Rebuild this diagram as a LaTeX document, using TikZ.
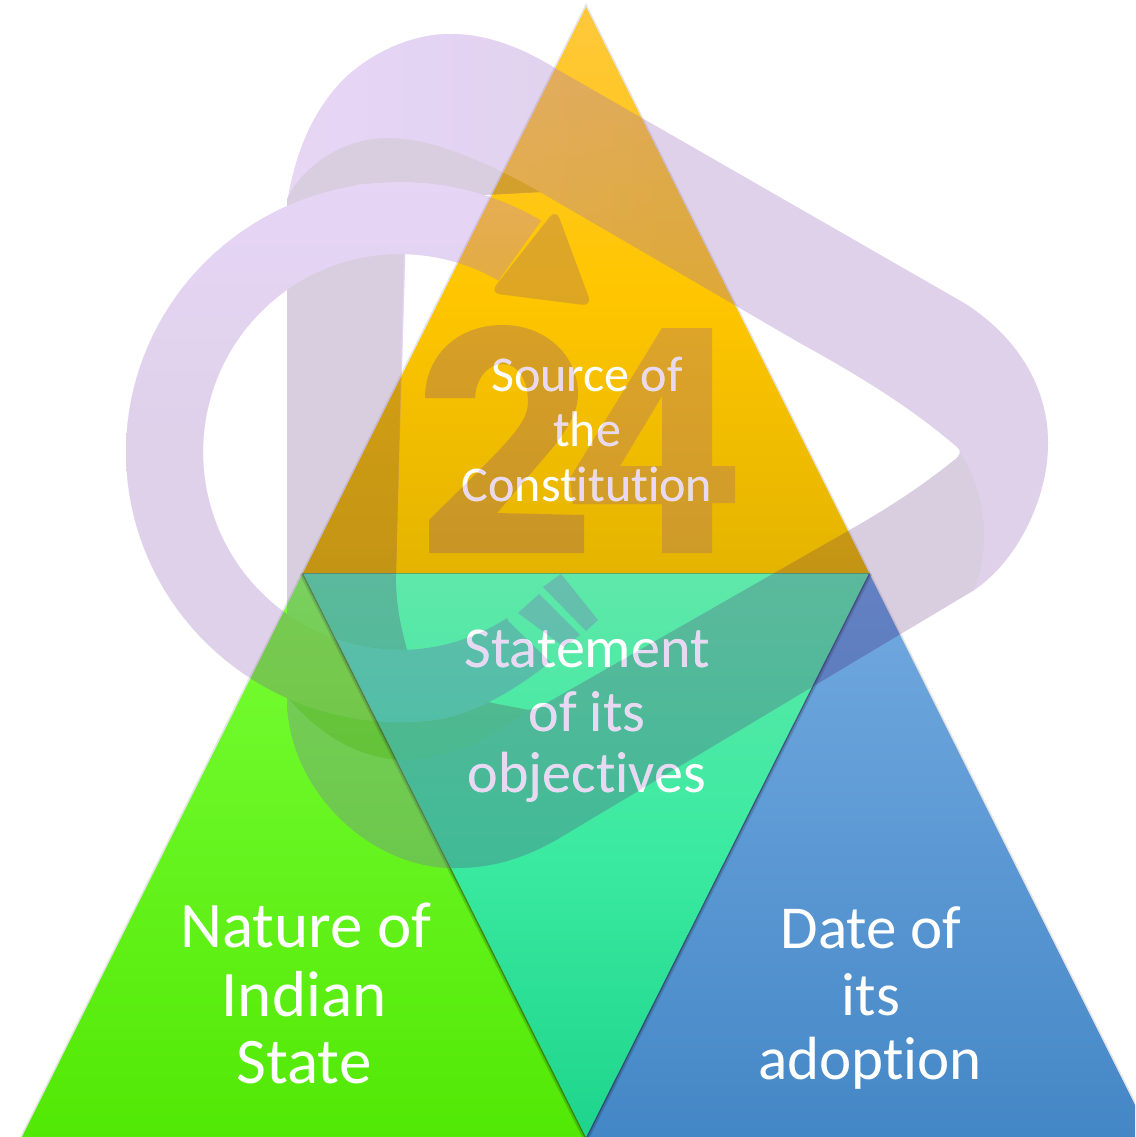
\documentclass[tikz,border=0pt]{standalone}
\usepackage{fontspec}
\setmainfont[Ligatures={NoCommon,NoRequired,NoContextual}]{Carlito}
\definecolor{wmLight}{RGB}{181,123,239}
\definecolor{wmMid}{RGB}{150,107,185}
\definecolor{wmRingTop}{RGB}{178,120,228}
\definecolor{wmDWhite}{RGB}{135,95,158}
\definecolor{wmDYellow}{RGB}{125,80,65}
\definecolor{wmDTeal}{RGB}{84,81,126}
\definecolor{wmDGreen}{RGB}{126,106,180}
\definecolor{wmDBlue}{RGB}{68,42,129}
\definecolor{wmBandY}{RGB}{116,74,97}
\definecolor{wmBandB}{RGB}{85,80,100}
\definecolor{wmRingT}{RGB}{100,97,174}
\definecolor{wmRingG}{RGB}{126,90,148}
\definecolor{wmArrow}{RGB}{150,97,110}
\definecolor{wmTwo}{RGB}{135,80,125}
\definecolor{wmFour}{RGB}{155,95,135}
\definecolor{wmBar}{RGB}{125,100,185}
\definecolor{wmTint}{RGB}{232,216,244}
\definecolor{gTop}{RGB}{120,255,55}
\definecolor{gBot}{RGB}{82,232,5}
\definecolor{bTop}{RGB}{115,170,225}
\definecolor{bBot}{RGB}{68,135,198}
\definecolor{tTop}{RGB}{95,232,170}
\definecolor{tMid}{RGB}{58,234,160}
\definecolor{tBot}{RGB}{30,212,140}
\definecolor{yTop}{RGB}{255,200,60}
\definecolor{yMid}{RGB}{255,198,0}
\definecolor{yBot}{RGB}{228,180,0}
\tikzset{
  lblbig/.style={font=\fontsize{65}{70}\selectfont,text=white,anchor=base,inner sep=0pt},
  lblblue/.style={font=\fontsize{61}{66}\selectfont,text=white,anchor=base,inner sep=0pt},
  lblmid/.style={font=\fontsize{58}{60}\selectfont,text=white,anchor=base,inner sep=0pt},
  lbltop/.style={font=\fontsize{50}{52}\selectfont,text=white,anchor=base,inner sep=0pt},
}
\def\tYellow{(586,7) -- (869,573) -- (303,573) -- cycle}
\def\tGreen{(303,573) -- (586,1137) -- (22,1137) -- cycle}
\def\tTeal{(303,573) -- (869,573) -- (586,1137) -- cycle}
\def\tBlue{(869,573) -- (1151,1137) -- (586,1137) -- cycle}
\def\playouter{(287,205) .. controls (295,150) and (315,108) .. (345,78) .. controls (375,50) and (415,34) .. (450,34) .. controls (490,34) and (525,50) .. (553,67) -- (964,303) .. controls (1015,335) and (1048,385) .. (1048,443) .. controls (1048,500) and (1016,562) .. (974,590) -- (556,840) .. controls (520,860) and (490,868) .. (454,868) .. controls (370,868) and (287,790) .. (287,697) -- cycle}
\def\playhole{(482,195) -- (540,192) -- (800,343) .. controls (867,380) and (914,410) .. (957,447) .. controls (961,450) and (961,455) .. (957,458) .. controls (921,487) and (890,507) .. (850,530) -- (540,707) .. controls (520,715) and (505,706) .. (487,702) .. controls (450,700) and (415,680) .. (407,650) .. controls (400,625) and (395,600) .. (396,573) -- (405,262) -- (405,230) .. controls (410,205) and (440,198) .. (482,195) -- cycle}
\def\armD{(287,205) -- (405,205) -- (396,573) .. controls (395,600) and (400,625) .. (407,650) .. controls (415,680) and (450,700) .. (487,702) .. controls (505,706) and (520,715) .. (540,707) -- (850,530) .. controls (890,507) and (921,487) .. (957,458) -- (960,453) .. controls (985,490) and (992,545) .. (974,590) -- (556,840) .. controls (520,860) and (490,868) .. (454,868) .. controls (370,868) and (287,790) .. (287,697) -- cycle}
\def\ringP{plot[domain=59:277,samples=90] ({400+274*cos(\x)},{452-270*sin(\x)}) .. controls (475,714) and (515,690) .. (550,662) -- (508,621) -- plot[domain=303:60,samples=90] ({400+197*cos(\x)},{452-198*sin(\x)}) -- cycle}
\def\bandTop{(287,199) .. controls (300,170) and (340,138) .. (387,138) .. controls (440,138) and (500,170) .. (540,192) -- (482,195) -- (427,188) -- (360,184) -- (287,207) -- cycle}
\def\bandBot{(287,697) .. controls (320,735) and (360,760) .. (406,760) .. controls (450,760) and (495,735) .. (529,710) -- (487,702) .. controls (450,715) and (415,722) .. (379,720) .. controls (345,718) and (315,710) .. (287,697) -- cycle}
\def\arrowP{(490,293) -- (556,209) -- (592,306) -- cycle}
\def\twoP{(425,398) -- (475,398) .. controls (476,378) and (488,364) .. (503,364) .. controls (518,364) and (528,380) .. (528,402) .. controls (528,425) and (505,445) .. (429,520) -- (429,553) -- (584,553) -- (584,515) -- (497,513) -- (555,445) .. controls (570,425) and (578,410) .. (578,394) .. controls (578,355) and (545,325) .. (503,325) .. controls (455,325) and (425,358) .. (425,398) -- cycle}
\def\fourP{(662,328) -- (712,328) -- (712,466) -- (735,466) -- (735,503) -- (712,503) -- (712,553) -- (662,553) -- (662,504) -- (573,504) -- (570,478) -- cycle (662,396) -- (662,466) -- (620,466) -- cycle}
\def\barA{(561,574) -- (598,620) -- (586,631) -- (543,587) -- cycle}
\def\barB{(539,594) -- (580,635) -- (564,647) -- (518,613) -- cycle}
\begin{document}
\begin{tikzpicture}[x=1pt,y=-1pt]
\useasboundingbox (0,0) rectangle (1135,1137);
\clip (0,0) rectangle (1135,1137);
\fill[white] (0,0) rectangle (1135,1137);
% triangles with soft edges
\draw[black,opacity=.10,line width=3.5] (303,573) -- (22,1137);
\shade[top color=gTop,bottom color=gBot] \tGreen;
\draw[black,opacity=.10,line width=3.5] (869,573) -- (1151,1137);
\shade[top color=bTop,bottom color=bBot] \tBlue;
\draw[black,opacity=.16,line width=7] (303,573) -- (586,1137) -- (869,573);
\draw[black,opacity=.30,line width=3] (303,573) -- (586,1137) -- (869,573);
\shade[top color=tTop,bottom color=tBot,middle color=tMid] \tTeal;
\draw[black,opacity=.10,line width=3.5] (303,573) -- (586,7) -- (869,573);
\draw[black,opacity=.28,line width=2.5] (303,573) -- (869,573);
\shade[top color=yTop,bottom color=yBot,middle color=yMid] \tYellow;
% watermark
\begin{scope}[transparency group,opacity=.31]
  \shade[even odd rule,left color=wmLight,right color=wmMid,middle color=wmMid] \playouter \playhole;
  \fill[wmDWhite] \armD;
  \begin{scope}\clip \tYellow; \fill[wmDYellow] \armD; \end{scope}
  \begin{scope}\clip \tTeal; \fill[wmDTeal] \armD; \end{scope}
  \begin{scope}\clip \tGreen; \fill[wmDGreen] \armD; \end{scope}
  \begin{scope}\clip \tBlue; \fill[wmDBlue] \armD; \end{scope}
  \fill[wmDWhite] \bandTop;
  \begin{scope}\clip \tYellow; \fill[wmBandY] \bandTop; \end{scope}
  \fill[wmBandB] \bandBot;
  \shade[top color=wmRingTop,bottom color=wmMid,middle color=wmMid] \ringP;
  \begin{scope}\clip \tTeal; \fill[wmRingT] \ringP; \end{scope}
  \begin{scope}\clip \tGreen; \fill[wmRingG] \ringP; \end{scope}
  \fill[wmArrow,rounded corners=10] \arrowP;
  \fill[wmTwo] \twoP;
  \fill[even odd rule,wmFour] \fourP;
  \fill[wmBar] \barA;
  \fill[wmBar] \barB;
\end{scope}
% labels
\node[lbltop] (s1) at (587,391) {Source of};
\node[lbltop] (s2) at (587,446) {the};
\node[lbltop] (s3) at (587,501) {Constitution};
\node[lblmid] (o1) at (587,667) {Statement};
\node[lblmid] (o2) at (587,731) {of its};
\node[lblmid] (o3) at (587,792) {objectives};
\node[lblbig] (n1) at (306,947) {Nature of};
\node[lblbig] (n2) at (304,1016) {Indian};
\node[lblbig] (n3) at (304,1083) {State};
\node[lblblue] (d1) at (871,948) {Date of};
\node[lblblue] (d2) at (871,1015) {its};
\node[lblblue] (d3) at (870,1079) {adoption};
% tint of the labels where the watermark lies over them
\begin{scope}[blend mode=darken]
  \fill[even odd rule,wmTint] \playouter \playhole;
  \fill[wmTint] \ringP;
  \fill[wmTint,rounded corners=10] \arrowP;
  \fill[wmTint] \twoP;
  \fill[even odd rule,wmTint] \fourP;
  \fill[wmTint] \barA;
  \fill[wmTint] \barB;
\end{scope}
\end{tikzpicture}
\end{document}
